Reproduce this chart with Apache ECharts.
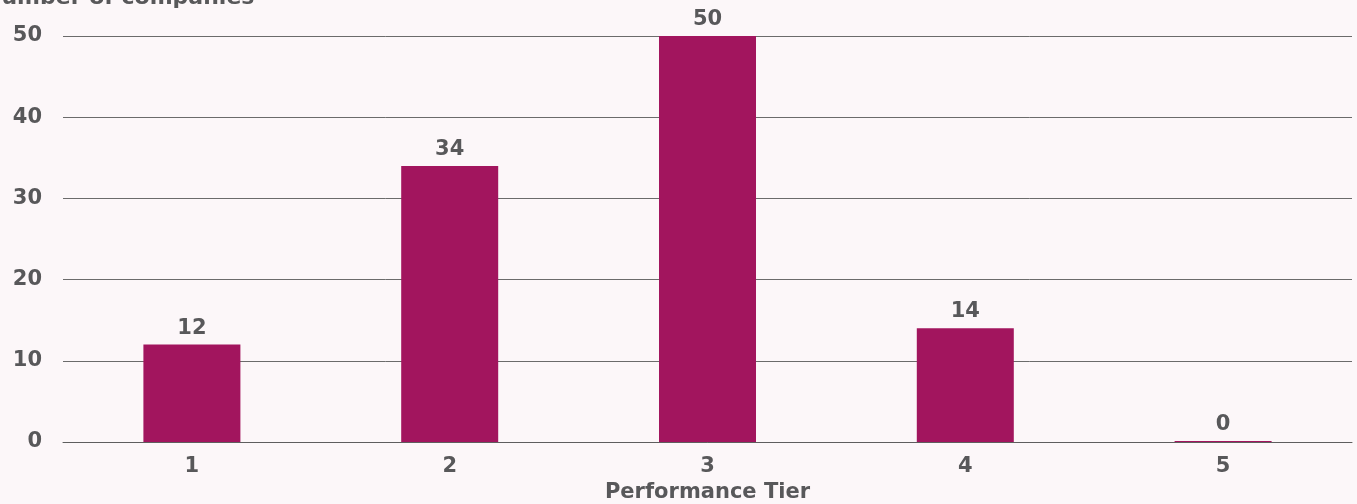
<!DOCTYPE html>
<html>
<head>
<meta charset="utf-8">
<script src="https://cdn.jsdelivr.net/npm/echarts@6/dist/echarts.min.js"></script>
<style>
html,body{margin:0;padding:0;background:#fcf7f9;}
#c{width:1357px;height:504px;}
</style>
</head>
<body>
<div id="c"></div>
<script>
const categories = ['1', '2', '3', '4', '5'];
const companies = [12, 34, 50, 14, 0];
const yTicks = [0, 10, 20, 30, 40, 50];

const FONT = 'DejaVu Sans';
const TXT = '#58585a';
const FS = 21;
const chart = echarts.init(document.getElementById('c'), null, {renderer: 'canvas'});
chart.setOption({
  backgroundColor: '#fcf7f9',
  animation: false,
  grid: {left: 63, right: 5, top: 36, bottom: 62, containLabel: false, outerBoundsMode: 'none'},
  graphic: [{
    type: 'text', left: -17, top: -13,
    style: {text: 'Number of companies', fontFamily: FONT, fontWeight: 'bold', fontSize: 22, fill: TXT}
  }],
  xAxis: {
    type: 'category', data: categories,
    name: 'Performance Tier', nameLocation: 'middle', nameGap: 39,
    nameTextStyle: {fontFamily: FONT, fontWeight: 'bold', fontSize: FS, color: TXT},
    axisLine: {show: true, lineStyle: {color: '#5e5e5e', width: 1}},
    axisTick: {show: false},
    axisLabel: {fontFamily: FONT, fontWeight: 'bold', fontSize: FS, color: TXT, margin: 14}
  },
  yAxis: {
    type: 'value', min: yTicks[0], max: yTicks[yTicks.length - 1], interval: 10,
    axisLine: {show: false}, axisTick: {show: false},
    splitLine: {lineStyle: {color: '#6b6b6b', width: 1}},
    axisLabel: {fontFamily: FONT, fontWeight: 'bold', fontSize: FS, color: TXT, margin: 21}
  },
  series: [{
    type: 'bar', data: companies, barWidth: 97, barMinHeight: 1,
    itemStyle: {color: '#a2155e'},
    label: {show: true, position: 'top', distance: 6, fontFamily: FONT, fontWeight: 'bold', fontSize: FS, color: TXT}
  }]
});
</script>
</body>
</html>
